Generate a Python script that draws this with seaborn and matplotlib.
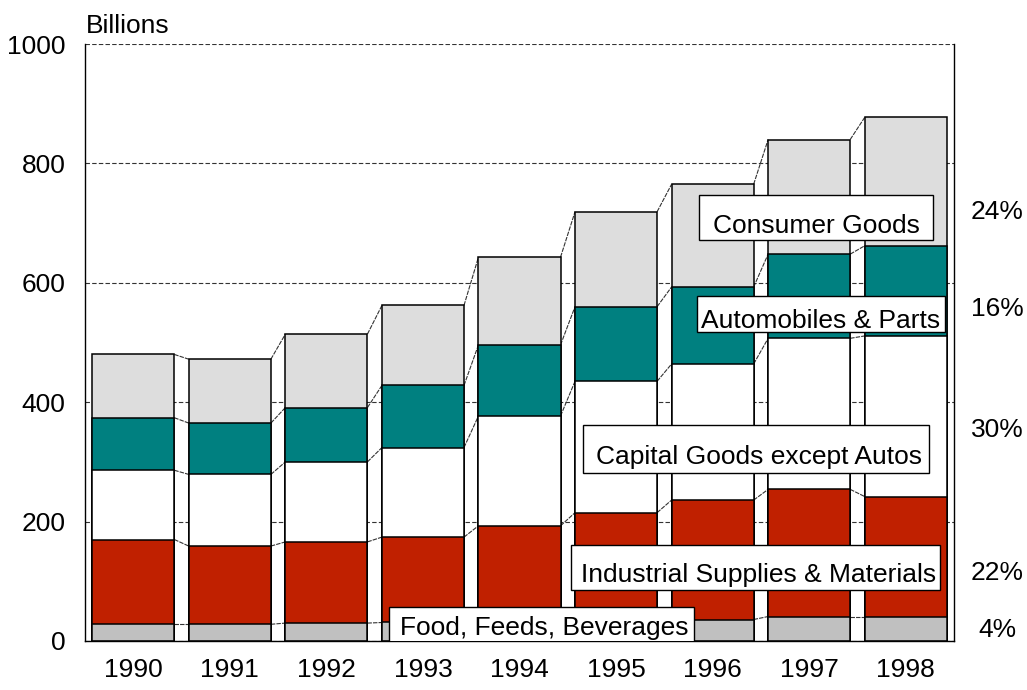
import numpy as np
import matplotlib
matplotlib.use("Agg")
import matplotlib.pyplot as plt
from matplotlib.patches import Rectangle
import seaborn as sns

# ── Data (billions of dollars) ───────────────────────────────────────────────
years = ["1990", "1991", "1992", "1993", "1994", "1995", "1996", "1997", "1998"]
food = [28, 28, 30, 31, 33, 35, 36, 41, 41]
industrial = [142, 131, 136, 143, 160, 180, 200, 213, 201]
capital = [116, 120, 134, 150, 184, 220, 228, 253, 269]
autos = [88, 86, 91, 104, 119, 125, 129, 141, 151]
consumer = [106, 107, 123, 134, 147, 159, 172, 192, 215]

series_names = ["Food, Feeds, Beverages", "Industrial Supplies & Materials",
                "Capital Goods except Autos", "Automobiles & Parts", "Consumer Goods"]
shares = ["4%", "22%", "30%", "16%", "24%"]
colors = ["#C0C0C0", "#C02000", "#FFFFFF", "#008080", "#DDDDDD"]
yticks = [0, 200, 400, 600, 800, 1000]

sns.set_style("white")
plt.rcParams["font.family"] = ["Liberation Sans", "DejaVu Sans"]
plt.rcParams["text.color"] = "black"
plt.rcParams["xtick.color"] = "black"
plt.rcParams["ytick.color"] = "black"

BAR_W = 0.85
FS = 19

fig = plt.figure(figsize=(10.27, 6.9), dpi=100)
ax = fig.add_axes([85 / 1027, 1 - 641 / 690, 869 / 1027, 597 / 690])

layers = [food, industrial, capital, autos, consumer]
cum = np.cumsum(np.array(layers), axis=0)

# draw tallest cumulative first so lower layers paint over it
for level in range(len(layers) - 1, -1, -1):
    sns.barplot(x=years, y=cum[level], color=colors[level], saturation=1,
                width=BAR_W, edgecolor="black", linewidth=1.1, ax=ax, zorder=2)

# pseudo-3D connector lines between neighbouring bars
half = BAR_W / 2
for level in range(len(layers)):
    for i in range(len(years) - 1):
        ax.plot([i + half, i + 1 - half], [cum[level][i], cum[level][i + 1]],
                color="#333333", linewidth=0.8, dashes=(4, 1), zorder=1.5)

ax.set_xlim(-0.5, len(years) - 0.5)
ax.set_ylim(0, 1000)
ax.set_yticks(yticks)
ax.set_xlabel("")
ax.set_ylabel("")
ax.grid(axis="y", color="#333333", linestyle=(0, (4, 2)), linewidth=0.8)
ax.set_axisbelow(True)
ax.tick_params(axis="y", length=0, pad=14, labelsize=FS, labelcolor="black")
ax.tick_params(axis="x", length=0, pad=12, labelsize=FS, labelcolor="black")
ax.spines["top"].set_visible(False)
for s in ["left", "right", "bottom"]:
    ax.spines[s].set_color("black")
    ax.spines[s].set_linewidth(1.0)

# label boxes: (x0, x1, y0, y1) in data units, then text centre x and baseline
labels = [
    (series_names[4], 5.86, 8.28, 672, 747, 7.08, 683),
    (series_names[3], 5.84, 8.41, 517, 578, 7.12, 524),
    (series_names[2], 4.66, 8.24, 282, 362, 6.48, 296),
    (series_names[1], 4.53, 8.36, 85, 161, 6.48, 99),
    (series_names[0], 2.65, 5.81, -5, 57, 4.26, 10),
]
for text, x0, x1, y0, y1, tx, ty in labels:
    ax.add_patch(Rectangle((x0, y0), x1 - x0, y1 - y0, facecolor="white",
                           edgecolor="black", linewidth=1.0, zorder=5))
    ax.text(tx, ty, text, ha="center", va="baseline", fontsize=FS,
            color="black", zorder=6)

# share of 1998 total, right of the plot
share_y = [18, 114, 353, 556, 719]
for s, y in zip(shares, share_y):
    ax.text(8.95, y, s, ha="center", va="center", fontsize=FS,
            color="black", clip_on=False)

fig.text(86 / 1027, 1 - 33 / 690, "Billions", ha="left", va="baseline",
         fontsize=FS, color="black")

fig.savefig("out.png", dpi=100)
